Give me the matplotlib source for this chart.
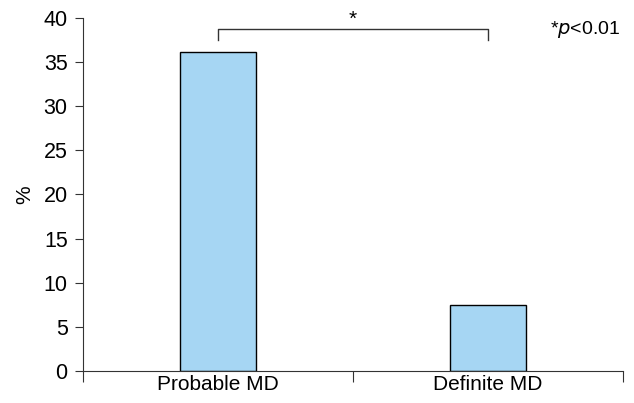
import numpy as np
import matplotlib.pyplot as plt

categories = ["Probable MD", "Definite MD"]
values = [36.1, 7.5]

plt.rcParams['font.family'] = ['Liberation Sans', 'DejaVu Sans']

fig = plt.figure(figsize=(6.34, 4.03), dpi=100)
ax = fig.add_axes([83 / 634, 1 - 371 / 403, 540 / 634, 353 / 403])

x = np.arange(len(categories)) + 0.5
ax.bar(x, values, width=0.28, color='#a6d6f3', edgecolor='black', linewidth=1)

ax.set_xlim(0, 2)
ax.set_ylim(0, 40)
ax.set_yticks(range(0, 41, 5))
ax.set_xticks([0, 1, 2])
ax.set_xticklabels([])
ax.set_xticks(x, minor=True)
ax.set_xticklabels(categories, minor=True)
ax.tick_params(axis='x', which='minor', length=0, pad=3, labelsize=15)
ax.tick_params(axis='x', which='major', length=8, direction='out', color='#333333')
ax.tick_params(axis='y', length=6, labelsize=15.5, color='#333333', pad=5)
for s in ['top', 'right']:
    ax.spines[s].set_visible(False)
for s in ['left', 'bottom']:
    ax.spines[s].set_color('#333333')
ax.set_ylabel('%', fontsize=15, labelpad=7)

# significance bracket
ax.plot([x[0], x[0], x[1], x[1]], [37.5, 38.75, 38.75, 37.5], color='#333333', lw=1, clip_on=False)
ax.text(1.0, 38.8, '*', ha='center', va='bottom', fontsize=15)
ax.text(1.99, 37.5, r'*$\it{p}$<0.01', ha='right', va='bottom', fontsize=14)

fig.savefig('out.png', dpi=100)
